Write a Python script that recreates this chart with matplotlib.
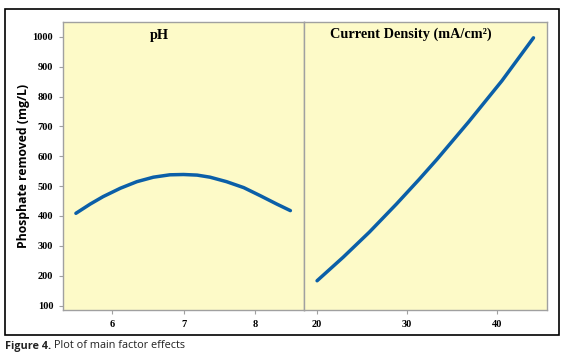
import matplotlib.pyplot as plt
from matplotlib.patches import Rectangle

# data
ph = [5.50, 5.70, 5.88, 6.12, 6.35, 6.58, 6.81, 7.00, 7.19, 7.37, 7.60, 7.84, 8.07, 8.30, 8.49]
ph_removed = [409, 440, 465, 493, 515, 530, 538, 539, 537, 530, 515, 495, 468, 440, 418]

cd = [20.0, 22.9, 25.8, 28.8, 31.3, 33.3, 36.8, 40.5, 44.0]
cd_removed = [183, 262, 346, 440, 522, 590, 715, 853, 997]

yticks = [100, 200, 300, 400, 500, 600, 700, 800, 900, 1000]
ph_ticks = [6, 7, 8]
cd_ticks = [20, 30, 40]

bg = '#fdfac8'
line_col = '#0b5fa8'
spine_col = '#a0a0a0'

fig = plt.figure(figsize=(5.65, 3.61), dpi=100)

# outer frame of the figure
fig.patches.append(Rectangle((5/565, 1-335/361), 554/565, 326/361,
                             transform=fig.transFigure, fill=False,
                             edgecolor='black', linewidth=1.2))

ax1 = fig.add_axes([63/565, 1-310/361, 241/565, 288/361])
ax2 = fig.add_axes([304/565, 1-310/361, 243/565, 288/361], sharey=ax1)

ax1.plot(ph, ph_removed, color=line_col, lw=2.5, solid_capstyle='round')
ax2.plot(cd, cd_removed, color=line_col, lw=2.5, solid_capstyle='round')

ax1.set_xlim(5.32, 8.68)
ax2.set_xlim(18.55, 45.5)
ax1.set_ylim(85, 1050)

ax1.set_xticks(ph_ticks)
ax2.set_xticks(cd_ticks)
ax1.set_yticks(yticks)

tfont = dict(family='Liberation Serif', weight='bold', size=7.5)
for ax in (ax1, ax2):
    ax.set_facecolor(bg)
    for s in ax.spines.values():
        s.set_color(spine_col)
        s.set_linewidth(1.0)
    ax.tick_params(colors=spine_col, length=3, width=0.8, labelcolor='black', pad=4)
    for lab in ax.get_xticklabels() + ax.get_yticklabels():
        lab.set_fontproperties(tfont)
ax2.tick_params(axis='y', left=False, labelleft=False)

ax1.text(0.40, 0.975, 'pH', transform=ax1.transAxes, ha='center', va='top',
         family='Liberation Serif', weight='bold', fontsize=10.3)
ax2.text(0.44, 0.98, 'Current Density (mA/cm²)', transform=ax2.transAxes,
         ha='center', va='top', family='Liberation Serif', weight='bold', fontsize=10.3)

ax1.set_ylabel('Phosphate removed (mg/L)', family='Open Sans', weight='bold',
               fontsize=8.8, labelpad=2)

# caption below the frame
cap1 = fig.text(5/565, 1-346/361, 'Figure 4.', family='Open Sans', weight='bold',
                fontsize=7.8, va='center', color='#222222')
r = fig.canvas.get_renderer()
bb = cap1.get_window_extent(renderer=r)
fig.text((bb.x1 + 3) / 565, 1-346/361, 'Plot of main factor effects', family='Open Sans',
         fontsize=7.8, va='center', color='#222222')

plt.savefig('out.png', dpi=100)
